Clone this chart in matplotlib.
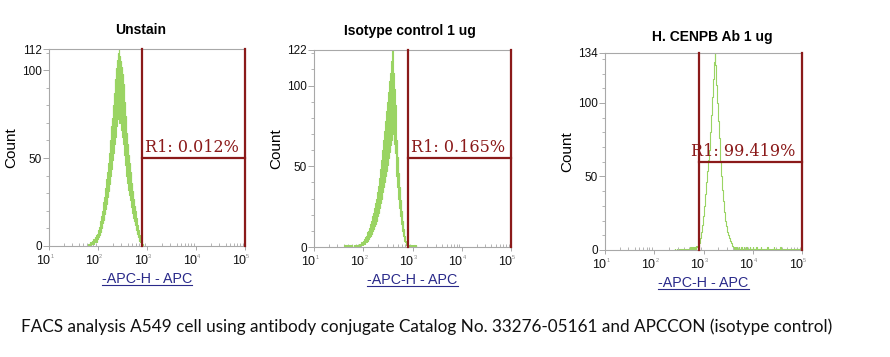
import numpy as np
import matplotlib
matplotlib.use("Agg")
import matplotlib.pyplot as plt
from matplotlib.ticker import FixedLocator, MultipleLocator, LogLocator, NullFormatter
from matplotlib.lines import Line2D

plt.rcParams['font.family'] = ['Liberation Sans', 'DejaVu Sans']

# ---------------- data ----------------
titles = ["Unstain", "Isotype control 1 ug", "H. CENPB Ab 1 ug"]
y_max = [112, 122, 134]
gate_labels = ["R1: 0.012%", "R1: 0.165%", "R1: 99.419%"]
gate_left_log = [2.90, 2.90, 2.91]
gate_right_log = [5.0, 5.0, 5.0]
gate_level = [50, 55, 60]
bin_width = 0.01  # decades per channel
hist_start_log = [1.80, 1.60, 2.40]

unstain_counts = [
    0, 1, 0, 0, 2, 1, 0, 2, 1, 3,
    1, 4, 1, 3, 5, 2, 4, 6, 2, 7,
    4, 9, 5, 11, 6, 14, 8, 17, 10, 20,
    13, 25, 15, 28, 18, 33, 21, 38, 24, 42,
    28, 47, 31, 53, 35, 60, 40, 68, 44, 73,
    49, 80, 53, 87, 58, 95, 62, 101, 68, 106,
    72, 110, 76, 112, 70, 108, 72, 105, 66, 102,
    62, 98, 58, 92, 52, 82, 46, 74, 40, 64,
    36, 58, 32, 52, 29, 47, 26, 42, 22, 36,
    19, 31, 16, 27, 14, 23, 12, 20, 9, 16,
    7, 12, 5, 9, 3, 6, 2, 4, 1, 3,
    1, 1, 0]
isotype_counts = [
    0, 0, 1, 0, 0, 0, 1, 0, 0, 0,
    1, 0, 0, 0, 1, 0, 0, 1, 0, 0,
    0, 1, 0, 0, 1, 0, 1, 0, 0, 1,
    0, 2, 1, 0, 2, 1, 3, 1, 2, 3,
    1, 4, 2, 5, 2, 6, 3, 7, 3, 9,
    4, 10, 5, 12, 6, 14, 7, 16, 8, 19,
    10, 21, 11, 24, 13, 27, 14, 30, 16, 34,
    19, 38, 21, 43, 24, 48, 27, 54, 30, 60,
    34, 66, 37, 72, 40, 78, 44, 84, 47, 90,
    51, 96, 55, 103, 59, 108, 63, 115, 66, 122,
    70, 108, 64, 98, 58, 88, 51, 78, 44, 66,
    37, 56, 30, 46, 24, 37, 19, 29, 14, 22,
    10, 16, 7, 11, 4, 7, 3, 4, 1, 3,
    1, 2, 0, 1, 0, 0, 1, 0, 0, 1,
    0, 1, 0, 0, 1, 0, 0, 1, 0, 0, 0]
cenpb_counts = [
    0, 0, 1, 0, 0, 0, 1, 0, 0, 0,
    1, 0, 0, 1, 0, 0, 0, 1, 0, 0,
    1, 0, 1, 0, 0, 1, 0, 1, 0, 1,
    0, 1, 1, 0, 2, 1, 0, 1, 2, 1,
    1, 2, 1, 2, 1, 3, 2, 2, 3, 2,
    3, 4, 5, 7, 8, 10, 12, 14, 17, 20,
    23, 26, 30, 34, 38, 42, 46, 50, 54, 58,
    61, 64, 68, 74, 80, 86, 92, 98, 104, 110,
    116, 122, 128, 134, 126, 118, 112, 106, 100, 94,
    88, 82, 76, 70, 66, 60, 55, 50, 45, 41,
    37, 33, 29, 26, 23, 20, 18, 16, 14, 12,
    11, 10, 9, 8, 7, 6, 5, 5, 4, 3,
    3, 2, 2, 1, 2, 1, 1, 2, 1, 1,
    1, 0, 2, 1, 1, 0, 1, 2, 1, 0,
    1, 1, 2, 0, 1, 1, 0, 2, 1, 1,
    0, 1, 0, 1, 2, 1, 0, 1, 1, 0,
    1, 2, 0, 1, 1, 0, 1, 0, 2, 1,
    0, 1, 1, 0, 1, 0, 1, 2, 0, 1,
    0, 1, 1, 0, 1, 0, 1, 0, 1, 1,
    2, 0, 1, 0, 1, 1, 0, 1, 0, 1,
    1, 0, 1, 2, 0, 1, 0, 0, 1, 1,
    0, 1, 0, 1, 1, 0, 2, 1, 0, 1,
    0, 1, 1, 0, 1, 0, 0, 1, 0, 1,
    1, 0, 1, 0, 1, 1, 0, 1, 0, 0,
    1, 0, 1, 1, 0, 1, 0, 1, 0, 1,
    0, 1, 0, 1, 0, 1]
all_counts = [unstain_counts, isotype_counts, cenpb_counts]
x_decades = [1, 2, 3, 4, 5]
caption = "FACS analysis A549 cell using antibody conjugate Catalog No. 33276-05161 and APCCON (isotype control)"
x_label = "-APC-H - APC"

# ---------------- layout ----------------
W, H = 890, 357
fig = plt.figure(figsize=(W / 100, H / 100), dpi=100)
boxes = [(49, 49, 196, 197), (314, 50, 197, 197), (605, 53, 197, 197)]  # left, top, w, h (px)
title_pos = [(141, 30.5), (409.5, 31), (712.7, 36.7)]

green = '#9ad463'
gate_col = '#8b1a1a'
spine_col = '#a8a8a8'
xlab_col = '#2a2a8a'

axes = []
for i in range(3):
    l, t, w, h = boxes[i]
    ax = fig.add_axes([l / W, (H - t - h) / H, w / W, h / H])
    axes.append(ax)
    counts = np.array(all_counts[i], dtype=float)
    xs = hist_start_log[i] + bin_width * np.arange(len(counts))
    ax.plot(10 ** xs, counts, drawstyle='steps-mid', color=green, lw=0.8, zorder=2)
    ax.set_xscale('log')
    ax.set_xlim(10 ** x_decades[0], 10 ** x_decades[-1])
    ax.set_ylim(0, y_max[i])

    # gate
    gl, gr = 10 ** gate_left_log[i], 10 ** gate_right_log[i]
    ax.plot([gl, gl], [0, y_max[i]], color=gate_col, lw=1.6, clip_on=False, zorder=3)
    ax.plot([gr, gr], [0, y_max[i]], color=gate_col, lw=1.6, clip_on=False, zorder=3)
    ax.plot([gl, gr], [gate_level[i], gate_level[i]], color=gate_col, lw=1.6, clip_on=False, zorder=3)
    ax.annotate(gate_labels[i], xy=(gr, gate_level[i]), xytext=(-4.5, 1.5), textcoords='offset points',
                ha='right', va='bottom', color=gate_col, fontsize=11.5, family='DejaVu Serif', zorder=4)

    for s in ax.spines.values():
        s.set_color(spine_col)
        s.set_linewidth(0.8)

    ax.yaxis.set_major_locator(FixedLocator([0, 50, 100, y_max[i]]))
    ax.yaxis.set_minor_locator(MultipleLocator(10))
    ax.set_yticklabels(['0', '50', '100', str(y_max[i])])
    ax.xaxis.set_major_locator(FixedLocator([10 ** d for d in x_decades]))
    ax.xaxis.set_minor_locator(LogLocator(base=10, subs=np.arange(2, 10), numticks=20))
    ax.xaxis.set_minor_formatter(NullFormatter())
    ax.tick_params(axis='y', which='major', length=4, width=0.7, color=spine_col,
                   labelsize=8.5, pad=1.0, labelcolor='#111111')
    ax.tick_params(axis='y', which='minor', length=2.5, width=0.6, color=spine_col)
    ax.tick_params(axis='x', which='major', length=3, width=0.7, color=spine_col,
                   labelbottom=False)
    ax.tick_params(axis='x', which='minor', length=2, width=0.6, color=spine_col, direction='in')
    ax.set_ylabel('Count', fontsize=11, labelpad=3)
    # x tick labels: "10" with a tiny exponent
    for d in x_decades:
        ax.annotate("10", xy=(10 ** d, 0), xycoords=('data', 'axes fraction'), xytext=(0.5, -6.5),
                    textcoords='offset points', ha='right', va='top', fontsize=9, color='#111111',
                    annotation_clip=False)
        ax.annotate(str(d), xy=(10 ** d, 0), xycoords=('data', 'axes fraction'), xytext=(0.8, -5.5),
                    textcoords='offset points', ha='left', va='top', fontsize=4, color='#888888',
                    annotation_clip=False)
    ax.set_xlabel(x_label, fontsize=10.3, color=xlab_col, labelpad=15)
    fig.text(title_pos[i][0] / W, 1 - title_pos[i][1] / H, titles[i], fontsize=10, fontweight='bold',
             ha='center', va='center')

# underline x labels
fig.canvas.draw()
r = fig.canvas.get_renderer()
for ax in axes:
    bb = ax.xaxis.label.get_window_extent(r)
    y = bb.y0 + 1.0
    fig.add_artist(Line2D([bb.x0 / W, bb.x1 / W], [y / H, y / H], color=xlab_col, lw=0.8,
                          transform=fig.transFigure))

cap = fig.text(21 / W, 1 - 327 / H, caption, fontsize=12, family='Lato', va='center', ha='left',
               color='#111111')
fig.canvas.draw()
cw = cap.get_window_extent(r).width
cap.set_fontsize(12 * 809 / cw)

fig.savefig('out.png', dpi=100, facecolor='white')
